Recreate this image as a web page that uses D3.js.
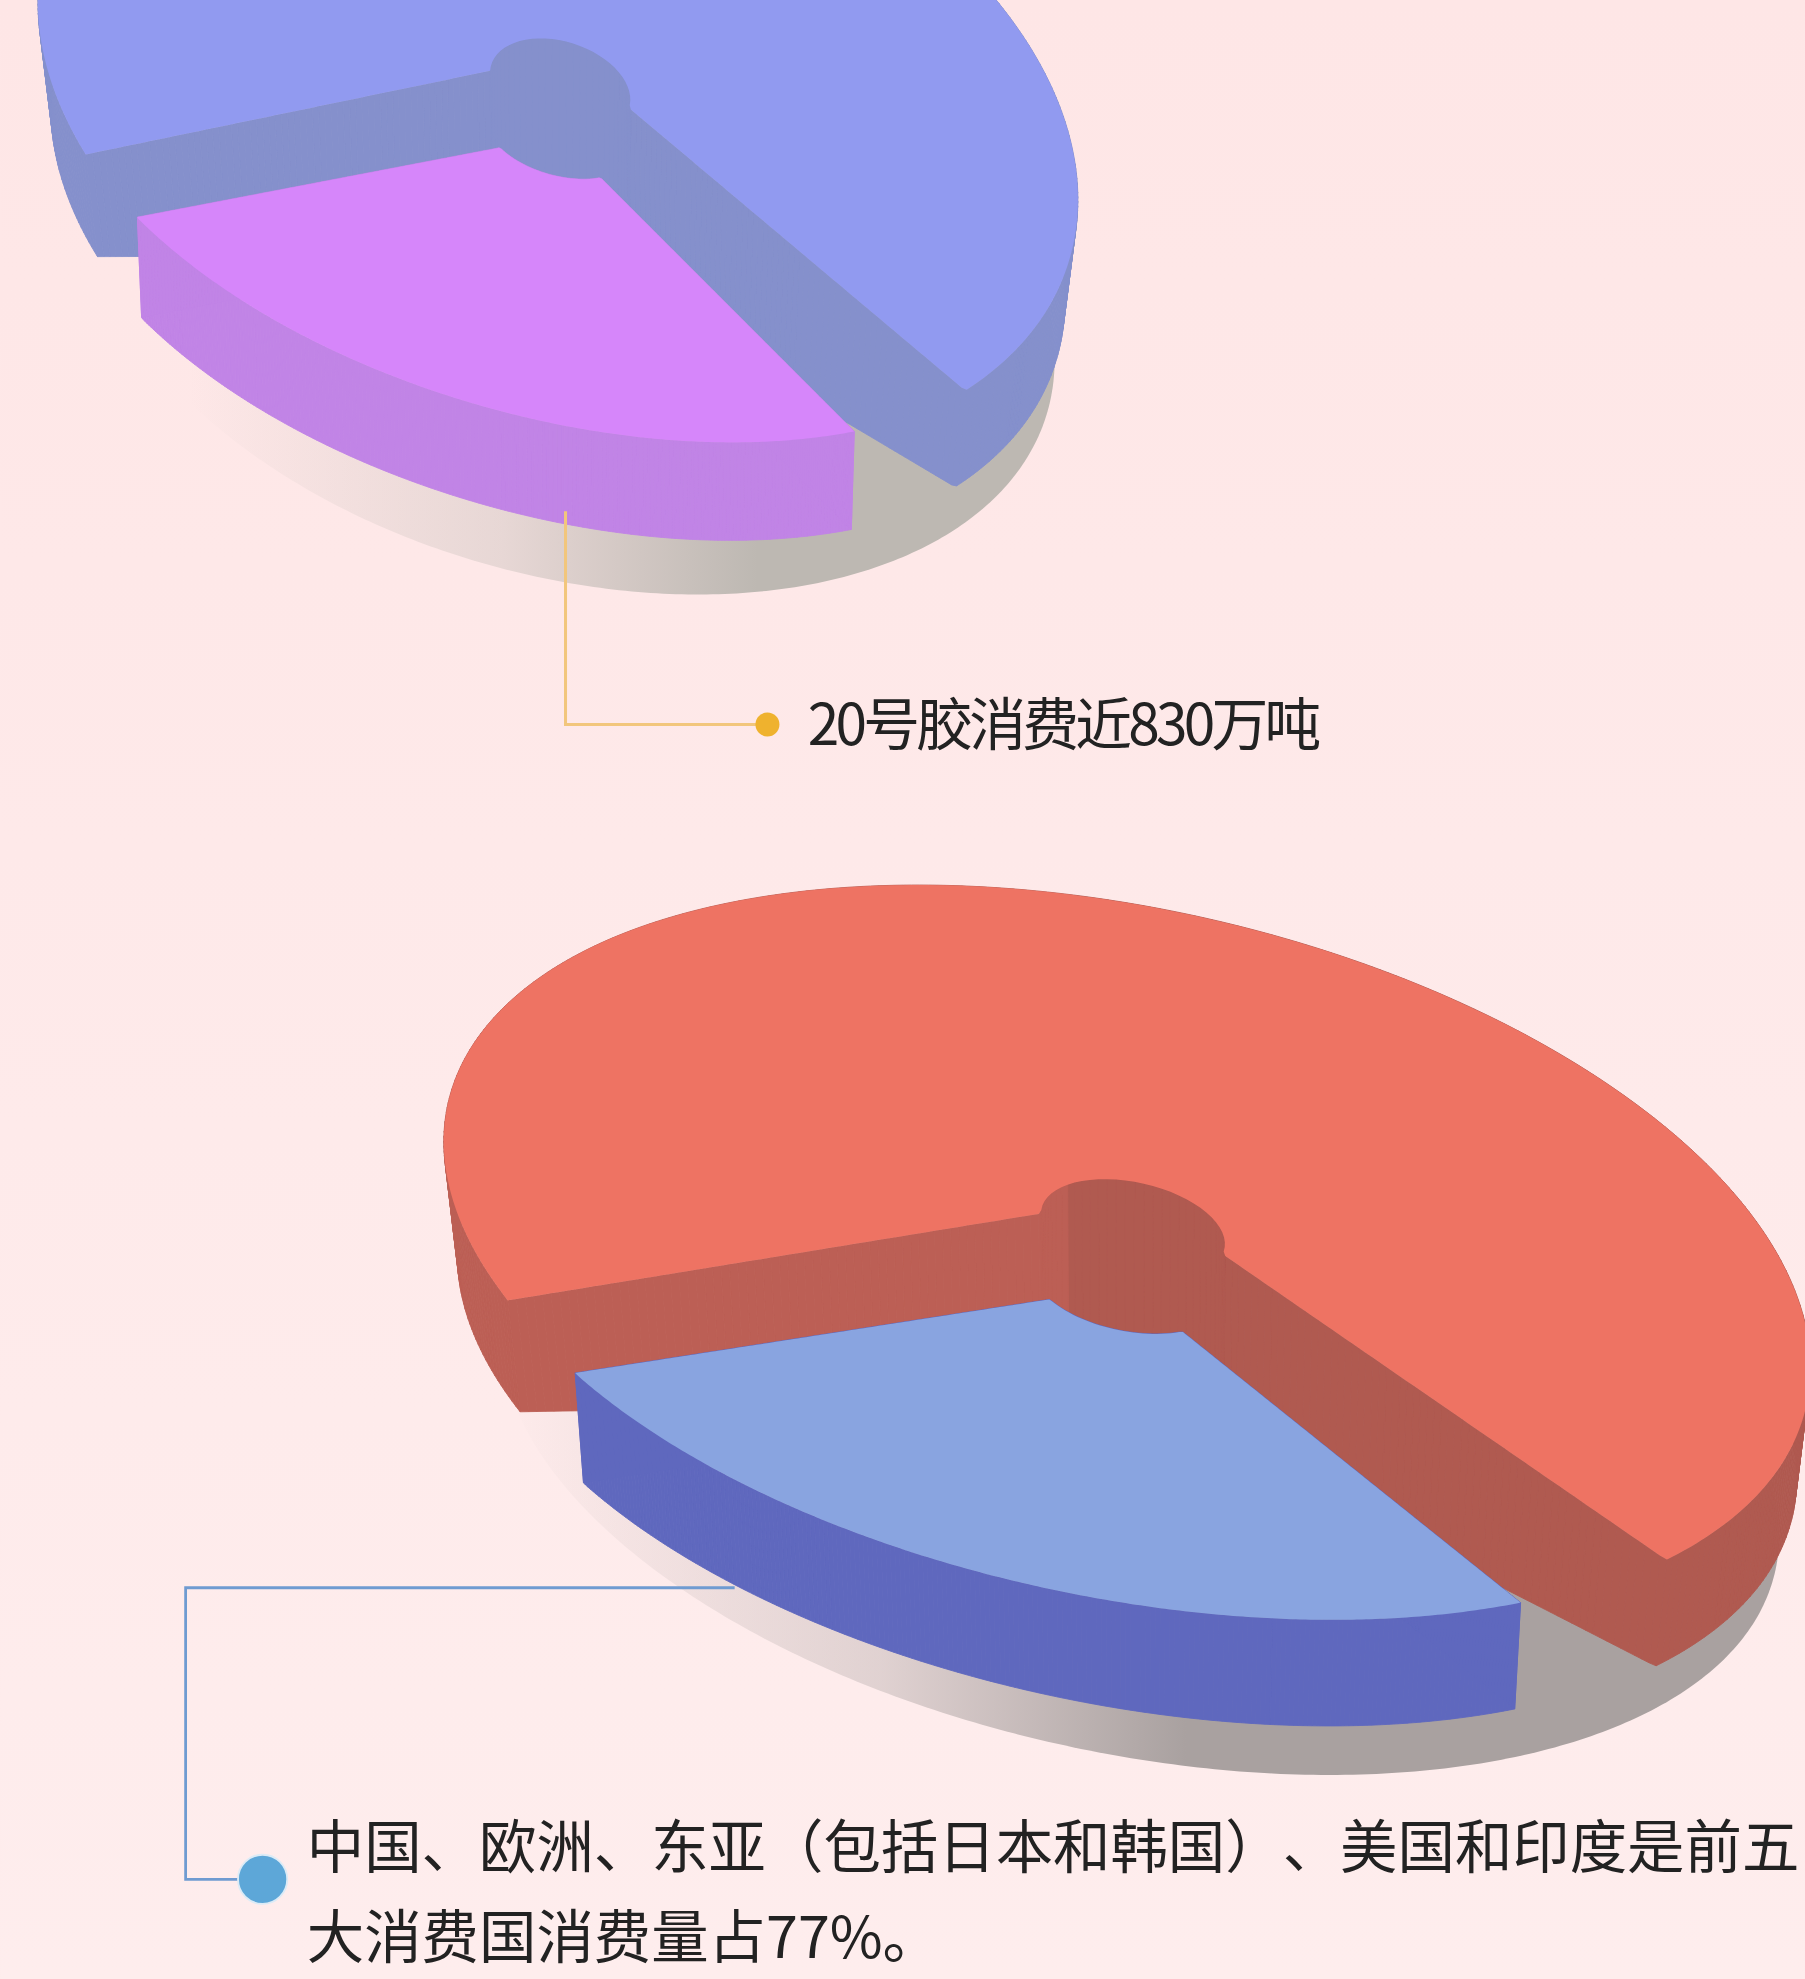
<!DOCTYPE html>
<html>
<head>
<meta charset="utf-8">
<script src="https://cdn.jsdelivr.net/npm/d3@7"></script>
<style>
  html, body { margin: 0; padding: 0; background: #feeaea; }
  svg { display: block; }
  text { font-family: "Noto Sans CJK SC", "Noto Sans", sans-serif; fill: #222; }
  .note { font-kerning: none; text-spacing-trim: space-all; font-feature-settings: "palt" 0, "chws" 0; }
</style>
</head>
<body>
<div id="chart"></div>
<script>
// shares
const rubberLabels = ["20号胶", "其他"];
const rubberValues = [25, 75];
const countryLabels = ["其他国家", "前五大消费国"];
const countryValues = [26, 74];

const note1 = ["20号胶消费近830万吨"];
const note2 = ["中国、欧洲、东亚（包括日本和韩国）、美国和印度是前五", "大消费国消费量占77%。"];

const W = 1430, H = 1568, R = 1000, N = 480;
const deg = Math.PI / 180;

const svg = d3.select("#chart").append("svg")
  .attr("width", 1805).attr("height", 1979)
  .attr("viewBox", `0 0 ${W} ${H}`);

const bg = svg.append("defs").append("linearGradient").attr("id", "bg")
  .attr("x1", 0).attr("x2", 0).attr("y1", 0).attr("y2", 1);
bg.append("stop").attr("offset", 0).attr("stop-color", "#fee6e6");
bg.append("stop").attr("offset", 1).attr("stop-color", "#feeded");
svg.append("rect").attr("width", W).attr("height", H).attr("fill", "url(#bg)");

const line = d3.line();
const probe = svg.append("path").style("display", "none");

// unit disk -> screen. s moves the circle centre off the ellipse centre (perspective)
// walls get deeper towards the centre by g.core
function projector(g, s = 0) {
  const k = Math.sqrt(1 - s * s);
  return (p, z = 0) => {
    const x = p[0] / R, y = p[1] / R, d = 1 + s * y;
    const X = x * k / d, Y = (y + s) / d;
    const f = 1 - z * g.shrink;
    const deep = g.depth * (1 + (g.core || 0) * (1 - Math.hypot(x, y)));
    return [
      g.c[0] + f * (g.u[0] * X + g.v[0] * Y),
      g.c[1] + f * (g.u[1] * X + g.v[1] * Y) + z * deep
    ];
  };
}

function sample(d) {
  probe.attr("d", d);
  const node = probe.node(), len = node.getTotalLength();
  return d3.range(N).map(i => {
    const pt = node.getPointAtLength(len * i / N);
    return [pt.x, pt.y];
  });
}

function drawPiece(root, pts, proj, top, wall) {
  const upper = pts.map(p => proj(p, 0));
  const lower = pts.map(p => proj(p, 1));
  root.append("g").selectAll("path")
    .data(d3.range(N))
    .join("path")
    .attr("d", i => {
      const j = (i + 1) % N;
      return line([upper[i], upper[j], lower[j], lower[i]]) + "Z";
    })
    .attr("fill", i => wall(upper[i][0]))
    .attr("stroke", i => wall(upper[i][0]))
    .attr("stroke-width", 0.7);
  root.append("path").attr("d", line(upper) + "Z").attr("fill", top);
}

function drawPie(cfg) {
  const root = svg.append("g");
  const gid = cfg.id + "-shadow";
  const grad = svg.select("defs").append("linearGradient").attr("id", gid)
    .attr("gradientUnits", "userSpaceOnUse")
    .attr("x1", cfg.shadow.x0).attr("x2", cfg.shadow.x1).attr("y1", 0).attr("y2", 0);
  grad.append("stop").attr("offset", 0).attr("stop-color", cfg.shadow.color).attr("stop-opacity", 0);
  grad.append("stop").attr("offset", 0.55).attr("stop-color", cfg.shadow.color).attr("stop-opacity", 0.35);
  grad.append("stop").attr("offset", 1).attr("stop-color", cfg.shadow.color).attr("stop-opacity", 1);

  const disc = d3.arc().innerRadius(0).outerRadius(R);
  const sp = projector(cfg.shadow.geo);
  root.append("path")
    .attr("d", line(sample(disc({ startAngle: 0, endAngle: 2 * Math.PI })).map(p => sp(p))) + "Z")
    .attr("fill", `url(#${gid})`);

  // slice middle sits at 180deg, straight down the ellipse
  const span = cfg.values[0] / d3.sum(cfg.values) * 360;
  const start = (180 - span / 2) * deg;
  const arcs = d3.pie().sort(null).value(d => d)
    .startAngle(start).endAngle(start + 2 * Math.PI)(cfg.values);

  const bodyProj = projector(cfg.geo, cfg.s);
  // floor of the centre hole
  const core = d3.arc().innerRadius(0).outerRadius(cfg.hole * R);
  const coreFill = cfg.bodyWall(cfg.geo.c[0]);
  drawPiece(root, sample(core({ startAngle: 0, endAngle: 2 * Math.PI })), bodyProj, coreFill, () => coreFill);

  const bodyArc = d3.arc().innerRadius(cfg.hole * R).outerRadius(R)
    .padRadius(R).padAngle(cfg.pad);
  const body = {
    startAngle: arcs[1].startAngle + cfg.cut[0] * deg,
    endAngle: arcs[1].endAngle - cfg.cut[1] * deg
  };
  drawPiece(root, sample(bodyArc(body)), bodyProj, cfg.bodyTop, cfg.bodyWall);

  const sliceArc = d3.arc().innerRadius(cfg.sliceHole * R).outerRadius(R);
  drawPiece(root, sample(sliceArc(arcs[0])), projector(cfg.sliceGeo),
    cfg.sliceTop, cfg.sliceWall);
}

drawPie({
  id: "rubber", values: rubberValues, labels: rubberLabels,
  geo: { c: [442, 80], u: [410, 104], v: [-40, 262], depth: 82, shrink: 0.025, core: 0.9 },
  s: -0.045, hole: 0.135, pad: 0.15, cut: [8.2, 5.7],
  sliceGeo: { c: [443, 108], u: [402, 120], v: [-71.4, 210.7], depth: 80, shrink: 0.01 },
  sliceHole: 0.14,
  bodyTop: "#919af0", bodyWall: () => "#8590cc",
  sliceTop: "#d686fa", sliceWall: () => "#c184e6",
  shadow: { color: "#bdb8b2", x0: 150, x1: 600,
    geo: { c: [450, 218], u: [385, 80], v: [-20, 240], depth: 0, shrink: 0 } }
});

drawPie({
  id: "country", values: countryValues, labels: countryLabels,
  geo: { c: [893, 994], u: [538, 120], v: [-60, 267], depth: 89, shrink: 0.02, core: 0.8 },
  s: -0.078, hole: 0.135, pad: 0.144, cut: [4, 3.8],
  sliceGeo: { c: [893, 1020], u: [514, 124.8], v: [-92, 232], depth: 88, shrink: 0.015 },
  sliceHole: 0.14,
  bodyTop: "#ee7363", bodyWall: x => x < 850 ? "#bc5f55" : "#b05a50",
  sliceTop: "#89a4e0", sliceWall: () => "#5f68be",
  shadow: { color: "#a9a1a0", x0: 400, x1: 940,
    geo: { c: [903, 1137], u: [505, 100], v: [-40, 250], depth: 0, shrink: 0 } }
});

// leader lines
svg.append("path").attr("d", line([[448, 405], [448, 574], [600, 574]]))
  .attr("fill", "none").attr("stroke", "#f2c67c").attr("stroke-width", 2.4);
svg.append("circle").attr("cx", 608).attr("cy", 574).attr("r", 9.5).attr("fill", "#efb22e");

svg.append("path").attr("d", line([[582, 1258], [147, 1258], [147, 1489], [192, 1489]]))
  .attr("fill", "none").attr("stroke", "#6f9bd1").attr("stroke-width", 2.2);
svg.append("circle").attr("cx", 208).attr("cy", 1489).attr("r", 19.5)
  .attr("fill", "#5da7d8").attr("stroke", "#dcebf6").attr("stroke-width", 1.5);

// labels
svg.append("text").attr("x", 640).attr("y", 590)
  .attr("font-size", 45).attr("letter-spacing", -3).text(note1[0]);
svg.selectAll(".note").data(note2).join("text").attr("class", "note")
  .attr("x", 243).attr("y", (d, i) => 1480 + i * 71)
  .attr("font-size", 45.5).text(d => d);
</script>
</body>
</html>
